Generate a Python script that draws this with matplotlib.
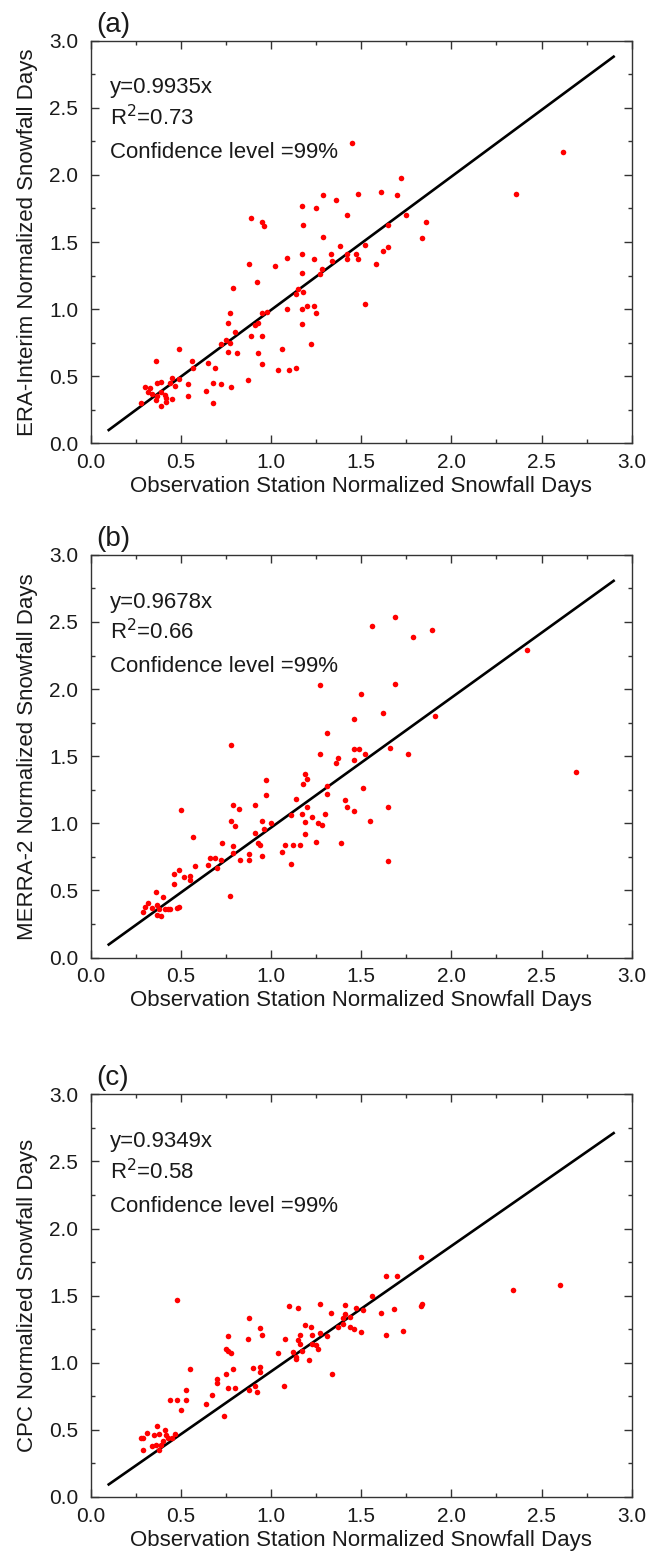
import matplotlib
matplotlib.use("Agg")
import matplotlib.pyplot as plt
from matplotlib.ticker import MultipleLocator

plt.rcParams['font.family'] = ['Liberation Sans', 'DejaVu Sans']

# panel (a): observation vs ERA-Interim
obs_a = [1.45, 1.17, 1.29, 1.36, 1.48, 1.25, 1.42, 0.89, 0.95, 0.96, 1.18, 1.29,
         1.38, 1.33, 1.52, 1.17, 1.09, 1.24, 1.34, 1.42, 1.47, 1.48, 1.42, 0.88,
         1.02, 1.17, 1.28, 1.27, 0.92, 0.79, 1.15, 1.18, 1.14, 1.52, 1.09, 1.17,
         1.20, 1.24, 1.25, 0.77, 0.95, 0.98, 0.76, 0.93, 0.91, 1.17, 0.80, 0.89,
         0.95, 0.75, 0.72, 0.77, 1.22, 0.49, 0.76, 0.81, 0.93, 1.06, 0.36, 0.56,
         0.65, 0.57, 0.69, 0.95, 1.04, 1.10, 1.14, 0.45, 0.49, 0.44, 0.39, 0.37,
         0.47, 0.54, 0.68, 0.72, 0.87, 0.78, 0.64, 0.30, 0.33, 0.32, 0.34, 0.39,
         0.41, 0.37, 0.36, 0.42, 0.45, 0.42, 0.54, 0.39, 0.28, 0.68,
         2.62, 2.36, 1.72, 1.61, 1.70, 1.75, 1.65, 1.86, 1.84, 1.62, 1.65, 1.58]
era_a = [2.24, 1.77, 1.85, 1.81, 1.86, 1.75, 1.70, 1.68, 1.65, 1.62, 1.63, 1.54,
         1.47, 1.41, 1.48, 1.41, 1.38, 1.37, 1.36, 1.37, 1.41, 1.37, 1.41, 1.34,
         1.32, 1.27, 1.30, 1.26, 1.20, 1.16, 1.15, 1.13, 1.11, 1.04, 1.00, 1.00,
         1.02, 1.02, 0.97, 0.97, 0.97, 0.98, 0.90, 0.90, 0.88, 0.89, 0.83, 0.80,
         0.80, 0.77, 0.74, 0.75, 0.74, 0.70, 0.68, 0.67, 0.67, 0.70, 0.61, 0.61,
         0.60, 0.56, 0.56, 0.59, 0.55, 0.55, 0.56, 0.49, 0.48, 0.45, 0.46, 0.45,
         0.43, 0.44, 0.45, 0.44, 0.47, 0.42, 0.39, 0.42, 0.41, 0.38, 0.37, 0.38,
         0.36, 0.35, 0.32, 0.34, 0.33, 0.31, 0.35, 0.28, 0.30, 0.30,
         2.17, 1.86, 1.98, 1.87, 1.85, 1.70, 1.63, 1.65, 1.53, 1.43, 1.46, 1.34]

# panel (b): observation vs MERRA-2
obs_b = [1.27, 1.50, 1.46, 1.31, 0.78, 1.27, 1.46, 1.49, 1.52, 1.37, 1.36, 1.46,
         1.19, 1.20, 1.18, 0.97, 0.97, 1.31, 1.31, 1.14, 0.79, 0.91, 0.82, 0.50,
         1.20, 1.41, 1.42, 1.46, 1.51, 1.17, 1.11, 1.23, 1.30, 0.78, 0.80, 0.95,
         0.96, 1.00, 1.19, 1.26, 1.28, 1.55, 0.91, 1.19, 0.57, 0.93, 0.94, 0.73,
         0.79, 0.79, 1.25, 1.08, 1.12, 1.16, 1.06, 1.39, 1.11, 0.88, 0.88, 0.95,
         0.83, 0.66, 0.69, 0.72, 0.65, 0.70, 0.58, 0.49, 0.46, 0.52, 0.55, 0.55,
         0.46, 0.77, 0.36, 0.40, 0.32, 0.30, 0.29, 0.37, 0.38, 0.37, 0.39, 0.43,
         0.44, 0.48, 0.49, 0.41, 0.34,
         1.69, 1.56, 1.89, 1.79, 2.42, 1.69, 1.62, 1.91, 1.66, 1.76, 2.69, 1.65, 1.65]
merra_b = [2.03, 1.96, 1.78, 1.67, 1.58, 1.52, 1.55, 1.55, 1.52, 1.49, 1.45, 1.47,
           1.37, 1.33, 1.29, 1.32, 1.21, 1.28, 1.22, 1.18, 1.14, 1.14, 1.11, 1.10,
           1.12, 1.17, 1.12, 1.09, 1.26, 1.07, 1.06, 1.05, 1.07, 1.02, 0.98, 1.02,
           0.96, 1.00, 1.01, 1.00, 0.99, 1.02, 0.93, 0.92, 0.90, 0.85, 0.84, 0.85,
           0.83, 0.78, 0.86, 0.84, 0.84, 0.84, 0.79, 0.85, 0.70, 0.77, 0.73, 0.76,
           0.73, 0.74, 0.74, 0.73, 0.69, 0.67, 0.68, 0.65, 0.62, 0.60, 0.61, 0.58,
           0.55, 0.46, 0.49, 0.45, 0.41, 0.38, 0.34, 0.39, 0.36, 0.32, 0.31, 0.36,
           0.36, 0.37, 0.38, 0.36, 0.37,
           2.54, 2.47, 2.44, 2.39, 2.29, 2.04, 1.82, 1.80, 1.56, 1.52, 1.38, 1.12, 0.72]

# panel (c): observation vs CPC
obs_c = [0.48, 1.27, 1.10, 1.15, 1.41, 1.47, 1.33, 1.41, 1.44, 1.40, 0.88, 1.19,
         1.22, 1.37, 1.44, 1.40, 1.46, 1.50, 0.94, 0.95, 0.76, 0.87, 1.08, 1.16,
         1.23, 1.27, 1.31, 1.15, 1.16, 1.23, 1.25, 1.26, 0.75, 0.76, 0.78, 1.04,
         1.12, 1.17, 1.14, 1.14, 1.21, 0.55, 0.79, 0.90, 0.94, 0.94, 0.75, 0.70,
         0.70, 0.76, 0.80, 0.88, 0.92, 0.91, 1.07, 1.34, 0.53, 0.67, 0.44, 0.48,
         0.53, 0.64, 0.50, 0.74, 0.37, 0.31, 0.41, 0.28, 0.29, 0.35, 0.38, 0.42,
         0.43, 0.47, 0.34, 0.36, 0.39, 0.40, 0.29, 0.38, 0.45,
         1.83, 1.64, 1.70, 2.34, 2.60, 1.56, 1.51, 1.61, 1.68, 1.83, 1.84, 1.64, 1.73]
cpc_c = [1.47, 1.44, 1.42, 1.41, 1.43, 1.41, 1.37, 1.36, 1.34, 1.33, 1.33, 1.28,
         1.27, 1.27, 1.27, 1.29, 1.25, 1.23, 1.26, 1.21, 1.20, 1.18, 1.18, 1.21,
         1.21, 1.22, 1.20, 1.17, 1.14, 1.14, 1.13, 1.10, 1.10, 1.09, 1.07, 1.07,
         1.08, 1.09, 1.04, 1.03, 1.02, 0.95, 0.95, 0.96, 0.97, 0.93, 0.92, 0.88,
         0.85, 0.81, 0.81, 0.80, 0.78, 0.83, 0.83, 0.92, 0.80, 0.76, 0.72, 0.72,
         0.72, 0.69, 0.65, 0.60, 0.53, 0.48, 0.50, 0.44, 0.44, 0.46, 0.47, 0.46,
         0.44, 0.47, 0.38, 0.39, 0.39, 0.42, 0.35, 0.35, 0.44,
         1.79, 1.65, 1.65, 1.54, 1.58, 1.50, 1.39, 1.37, 1.40, 1.42, 1.44, 1.21, 1.24]

panel_tags = ['(a)', '(b)', '(c)']
y_labels = ['ERA-Interim Normalized Snowfall Days',
            'MERRA-2 Normalized Snowfall Days',
            'CPC Normalized Snowfall Days']
slopes = [0.9935, 0.9678, 0.9349]
r2_values = ['0.73', '0.66', '0.58']
x_label = 'Observation Station Normalized Snowfall Days'

text_color = '#1a1a1a'
fig = plt.figure(figsize=(6.51, 15.6), dpi=100)
axes_rects = [[0.1393, 0.7158, 0.831, 0.2581],
              [0.1393, 0.3862, 0.831, 0.2581],
              [0.1393, 0.0404, 0.831, 0.2581]]
datasets = [(obs_a, era_a), (obs_b, merra_b), (obs_c, cpc_c)]

for i, rect in enumerate(axes_rects):
    ax = fig.add_axes(rect)
    xs, ys = datasets[i]
    ax.plot(xs, ys, 'o', color='#ff0000', markersize=4.0, markeredgewidth=0, zorder=3)
    fit_x = [0.1, 2.9]
    ax.plot(fit_x, [slopes[i] * v for v in fit_x], color='black', lw=1.9, zorder=2)

    ax.set_xlim(0, 3)
    ax.set_ylim(0, 3)
    ax.xaxis.set_major_locator(MultipleLocator(0.5))
    ax.yaxis.set_major_locator(MultipleLocator(0.5))
    ax.xaxis.set_minor_locator(MultipleLocator(0.25))
    ax.yaxis.set_minor_locator(MultipleLocator(0.25))
    ax.xaxis.set_major_formatter(plt.FormatStrFormatter('%.1f'))
    ax.yaxis.set_major_formatter(plt.FormatStrFormatter('%.1f'))
    ax.tick_params(which='both', direction='in', top=True, right=True,
                   labelsize=15, colors='#333333', labelcolor=text_color, width=1)
    ax.tick_params(which='major', length=5.8)
    ax.tick_params(which='minor', length=3)
    ax.tick_params(axis='y', which='major', pad=9)
    ax.tick_params(axis='x', which='major', pad=7)
    for s in ax.spines.values():
        s.set_linewidth(1)
        s.set_color('#333333')

    ax.set_xlabel(x_label, fontsize=16, color=text_color, labelpad=3)
    ax.set_ylabel(y_labels[i], fontsize=16, color=text_color, labelpad=8)

    ax.text(0.036, 0.883, 'y=%.4fx' % slopes[i], transform=ax.transAxes,
            fontsize=16, color=text_color, va='center', ha='left')
    ax.text(0.036, 0.809, r'R$^2$=' + r2_values[i], transform=ax.transAxes,
            fontsize=16, color=text_color, va='center', ha='left')
    ax.text(0.036, 0.722, 'Confidence level =99%', transform=ax.transAxes,
            fontsize=16, color=text_color, va='center', ha='left')
    ax.text(0.041, 1.04, panel_tags[i], transform=ax.transAxes,
            fontsize=20, color=text_color, va='center', ha='center')

fig.savefig('out.png', dpi=100)
